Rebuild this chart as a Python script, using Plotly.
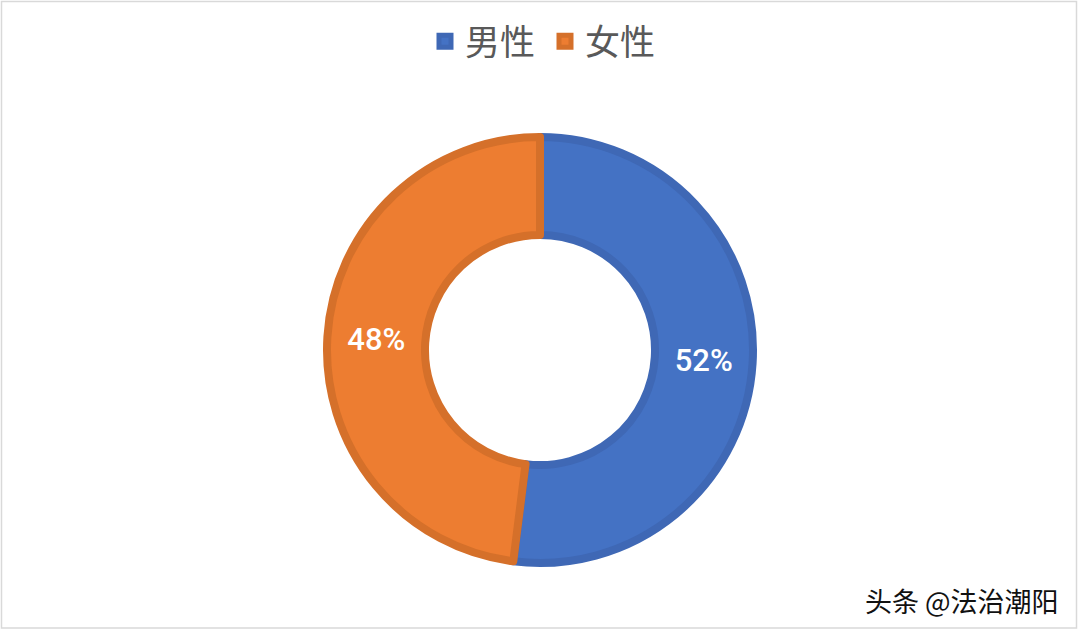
import plotly.graph_objects as go

labels = ["男性", "女性"]
values = [52, 48]
fill_colors = ["#4472C4", "#ED7D31"]
edge_colors = ["#3F68B5", "#D5702A"]

W, H = 1080, 631
cx, cy, r = 540, 350, 213

fig = go.Figure(go.Pie(
    labels=labels,
    values=values,
    hole=0.54,
    sort=False,
    direction="clockwise",
    rotation=0,
    marker=dict(colors=fill_colors, line=dict(color=edge_colors, width=8)),
    texttemplate="%{value}%",
    textposition="inside",
    insidetextorientation="horizontal",
    textfont=dict(family="Roboto, Liberation Sans, Arial, sans-serif", size=31, color="white", weight=500),
    domain=dict(x=[(cx - r) / W, (cx + r) / W], y=[1 - (cy + r) / H, 1 - (cy - r) / H]),
    hoverinfo="label+percent",
))

fig.update_layout(
    width=W, height=H,
    margin=dict(l=0, r=0, t=0, b=0),
    paper_bgcolor="white",
    plot_bgcolor="white",
    showlegend=True,
    legend=dict(
        orientation="h",
        x=0.5 + 5 / W, xanchor="center",
        y=1 - 12 / H, yanchor="top",
        font=dict(family="Noto Sans CJK SC", size=35, color="#595959"),
        itemwidth=30,
        entrywidth=75,
        traceorder="normal",
    ),
    shapes=[dict(
        type="rect", xref="paper", yref="paper",
        x0=1.5 / W, x1=1 - 3.5 / W, y0=3 / H, y1=1 - 1.5 / H,
        line=dict(color="#D9D9D9", width=1.5),
    )],
    annotations=[dict(
        text="头条 @法治潮阳",
        xref="paper", yref="paper",
        x=1 - 19 / W, y=1 - 600 / H,
        xanchor="right", yanchor="middle",
        showarrow=False,
        font=dict(family="Noto Sans CJK SC", size=27, color="#111111"),
    )],
)

fig.write_html(
    "out.html",
    config={"displayModeBar": False},
    post_script="document.body.style.margin='0';document.body.style.overflow='hidden';",
)
